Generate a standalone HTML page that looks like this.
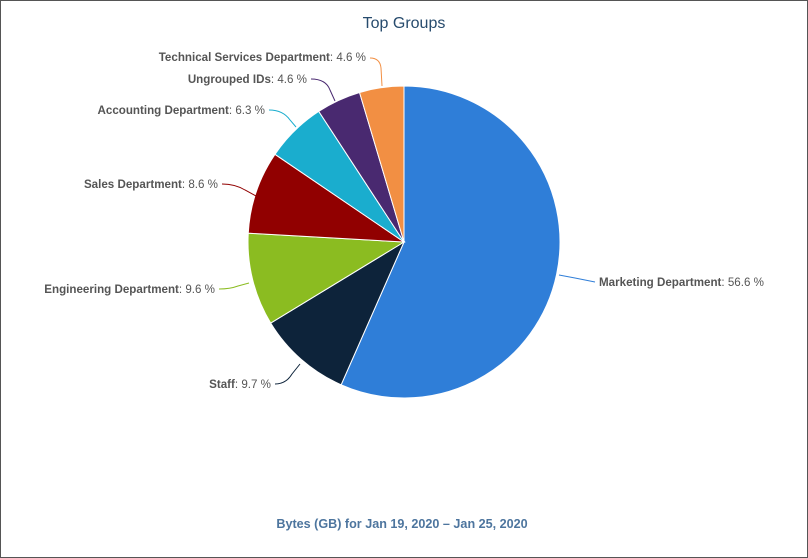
<!DOCTYPE html>
<html><head><meta charset="utf-8"><style>
body{margin:0;background:#fff;}
svg{display:block;font-family:"Liberation Sans","DejaVu Sans",sans-serif;}
.n{font-weight:bold;fill:#555;font-size:11.6px}
.v{fill:#555;font-size:11.6px}
</style></head><body>
<svg id="s" width="808" height="558" viewBox="0 0 808 558">
<rect x="0.5" y="0.5" width="807" height="557" fill="#fff" stroke="#555"/>
<text x="404" y="28" text-anchor="middle" font-size="16" fill="#274b6d">Top Groups</text>
<g id="pie"></g>
<g fill="none" stroke-width="1">
<path d="M370,58 Q380,58 381,68 L382,86" stroke="#f28f43"/>
<path d="M311,79 Q326,79 330,90 L335,101" stroke="#492970"/>
<path d="M269,110 Q283,110 290,120 L296,127" stroke="#1aadce"/>
<path d="M222,184 Q235,184 245,190 L256,196" stroke="#910000"/>
<path d="M219,289 Q230,289 238,286 L249,283" stroke="#8bbc21"/>
<path d="M275,384 Q286,384 292,374 L300,364" stroke="#0d233a"/>
<path d="M595,282 Q585,280 575,278 L559,275" stroke="#2f7ed8"/>
</g>
<text x="366" y="61" text-anchor="end"><tspan class="n">Technical Services Department</tspan><tspan class="v">: 4.6 %</tspan></text>
<text x="307" y="83" text-anchor="end"><tspan class="n">Ungrouped IDs</tspan><tspan class="v">: 4.6 %</tspan></text>
<text x="265" y="114" text-anchor="end"><tspan class="n">Accounting Department</tspan><tspan class="v">: 6.3 %</tspan></text>
<text x="218" y="188" text-anchor="end"><tspan class="n">Sales Department</tspan><tspan class="v">: 8.6 %</tspan></text>
<text x="215" y="293" text-anchor="end"><tspan class="n">Engineering Department</tspan><tspan class="v">: 9.6 %</tspan></text>
<text x="271" y="388" text-anchor="end"><tspan class="n">Staff</tspan><tspan class="v">: 9.7 %</tspan></text>
<text x="599" y="286" text-anchor="start"><tspan class="n">Marketing Department</tspan><tspan class="v">: 56.6 %</tspan></text>
<text x="402" y="528" text-anchor="middle" font-size="12.6" font-weight="bold" fill="#4d759e">Bytes (GB) for Jan 19, 2020 – Jan 25, 2020</text>
</svg>
<script>
var d=[[56.6,"#2f7ed8"],[9.7,"#0d233a"],[9.6,"#8bbc21"],[8.6,"#910000"],[6.3,"#1aadce"],[4.6,"#492970"],[4.6,"#f28f43"]];
var cx=404,cy=242,r=156,a=-Math.PI/2,h="";
for(var i=0;i<d.length;i++){var e=a+d[i][0]/100*2*Math.PI;
var x1=cx+r*Math.cos(a),y1=cy+r*Math.sin(a),x2=cx+r*Math.cos(e),y2=cy+r*Math.sin(e);
h+='<path d="M'+cx+','+cy+' L'+x1+','+y1+' A'+r+','+r+' 0 '+((e-a)>Math.PI?1:0)+' 1 '+x2+','+y2+' Z" fill="'+d[i][1]+'" stroke="#fff" stroke-width="1"/>';a=e;}
document.getElementById("pie").innerHTML=h;
</script>
</body></html>
